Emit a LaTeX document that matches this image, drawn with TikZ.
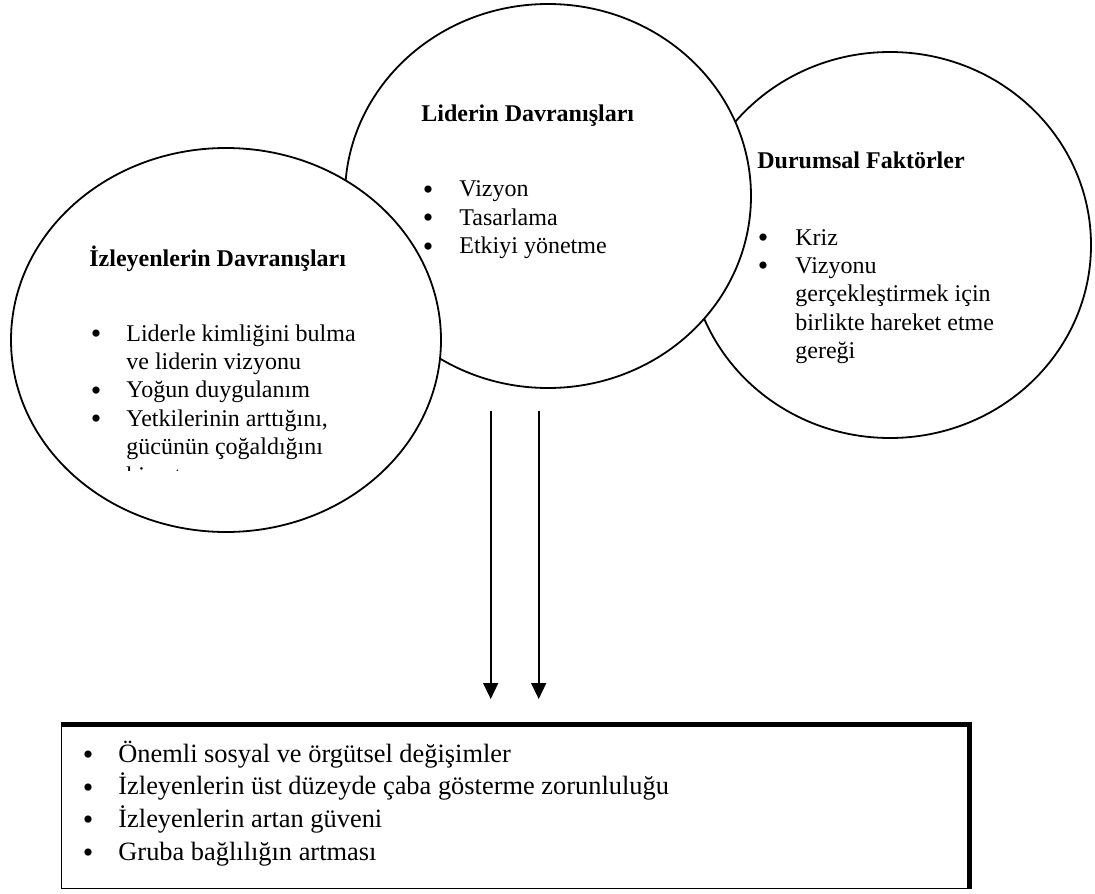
\documentclass[tikz,border=0pt]{standalone}
\usepackage{fontspec}
\setmainfont{Liberation Serif}[BoldFont={Liberation Serif Bold}]
\usetikzlibrary{shapes.geometric,arrows.meta}
% list bullet: a slightly enlarged round dot centred on the x-height
\newcommand\itemdot{\raisebox{-1.1pt}{\fontsize{15}{12}\selectfont •}}
\begin{document}
\begin{tikzpicture}[x=0.5pt,y=-0.5pt,
  bubble/.style={ellipse,draw,line width=0.9pt,fill=white,inner sep=0pt},
  heading/.style={anchor=base west,inner sep=0pt,font=\fontsize{12}{14.2}\selectfont\bfseries},
  items/.style={anchor=base west,inner sep=0pt,font=\fontsize{12}{14.2}\selectfont},
  outitems/.style={anchor=base west,inner sep=0pt,font=\fontsize{13.2}{16.4}\selectfont},
  resultbox/.style={draw,line width=0.5pt,inner sep=0pt,minimum width=455pt,minimum height=83pt},
  heavyedge/.style={line width=2.5pt,line join=miter},
  flow/.style={line width=0.8pt,-{Triangle[width=7.5pt,length=8pt]}},
]
\useasboundingbox (0,0) rectangle (1095,893);

% the three overlapping ellipses, back to front
\node[bubble,minimum width=201pt,minimum height=193pt] (situation) at (890,245) {};
\node[bubble,minimum width=203pt,minimum height=192pt] (leader) at (548,196) {};
\node[bubble,minimum width=215pt,minimum height=192pt] (followers) at (226,340) {};

% outcome box: thin frame with heavy top and right edges
\node[resultbox] (outcome) at (516,805) {};
\draw[heavyedge] ([yshift=-1.25pt]outcome.north west) -- ([xshift=-1.25pt,yshift=-1.25pt]outcome.north east) -- ([xshift=-1.25pt]outcome.south east);

% the two downward arrows
\coordinate (arrowAtop) at (490.7,411);
\coordinate (arrowAend) at (490.7,699);
\coordinate (arrowBtop) at (538.7,411);
\coordinate (arrowBend) at (538.7,699);
\draw[flow] (arrowAtop) -- (arrowAend);
\draw[flow] (arrowBtop) -- (arrowBend);

% headings
\node[heading] (followersTitle) at (89,266) {İzleyenlerin Davranışları};
\node[heading] (leaderTitle) at (421,122) {Liderin Davranışları};
\node[heading] (situationTitle) at (757,169) {Durumsal Faktörler};

% bullet lists
\begin{scope}
\clip (0,0) rectangle (1095,470);
\node[items] (followersList) at (90.5,341) {\begin{tabular}[t]{@{}p{17.75pt}@{}l@{}}
\itemdot& Liderle kimliğini bulma\\
 & ve liderin vizyonu\\
\itemdot& Yoğun duygulanım\\
\itemdot& Yetkilerinin arttığını,\\
 & gücünün çoğaldığını\\
 & hissetme
\end{tabular}};
\end{scope}

\node[items] (leaderList) at (422.5,197) {\begin{tabular}[t]{@{}p{18.25pt}@{}l@{}}
\itemdot& Vizyon\\
\itemdot& Tasarlama\\
\itemdot& Etkiyi yönetme
\end{tabular}};

\node[items] (situationList) at (757.5,245) {\begin{tabular}[t]{@{}p{18.75pt}@{}l@{}}
\itemdot& Kriz\\
\itemdot& Vizyonu\\
 & gerçekleştirmek için\\
 & birlikte hareket etme\\
 & gereği
\end{tabular}};

\node[outitems] (outcomeList) at (82.5,762) {\begin{tabular}[t]{@{}p{17.75pt}@{}l@{}}
\itemdot& Önemli sosyal ve örgütsel değişimler\\
\itemdot& İzleyenlerin üst düzeyde çaba gösterme zorunluluğu\\
\itemdot& İzleyenlerin artan güveni\\
\itemdot& Gruba bağlılığın artması
\end{tabular}};
\end{tikzpicture}
\end{document}
